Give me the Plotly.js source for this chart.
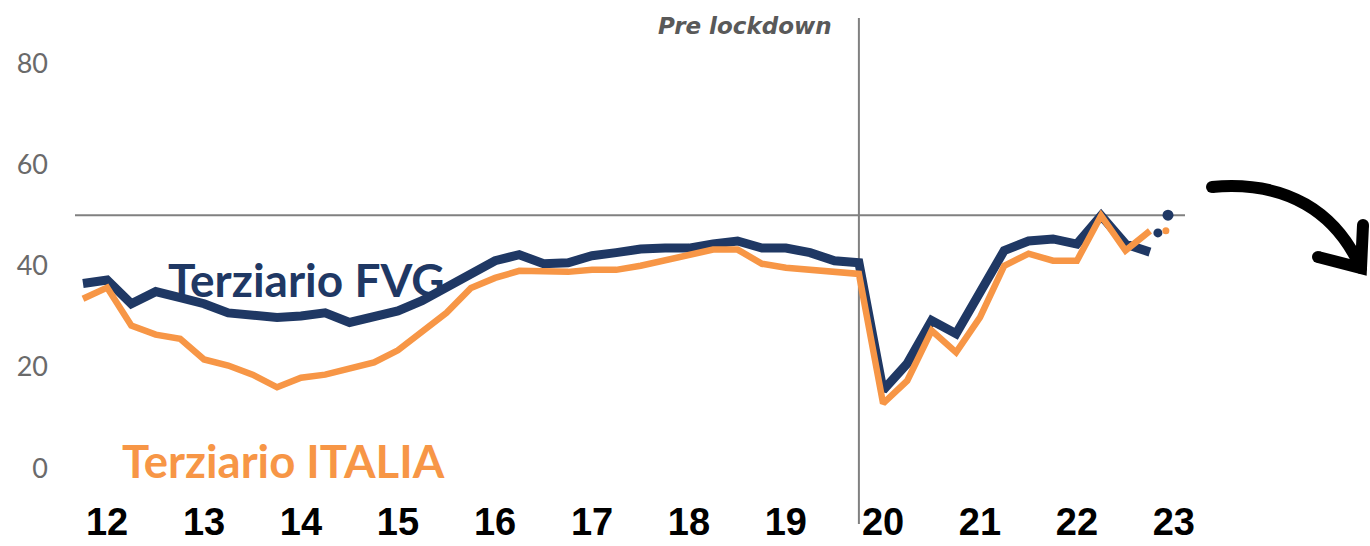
<!DOCTYPE html>
<html>
<head>
<meta charset="utf-8">
<script src="https://cdn.plot.ly/plotly-3.0.1.min.js"></script>
<style>
html,body{margin:0;padding:0;background:#fff;}
#chart{width:1370px;height:546px;}
</style>
</head>
<body>
<div id="chart"></div>
<script>
// Quarters (first day of each quarter), 2012 Q1 – 2023 Q1
const quarters = [
  "2012-01-01","2012-04-01","2012-07-01","2012-10-01",
  "2013-01-01","2013-04-01","2013-07-01","2013-10-01",
  "2014-01-01","2014-04-01","2014-07-01","2014-10-01",
  "2015-01-01","2015-04-01","2015-07-01","2015-10-01",
  "2016-01-01","2016-04-01","2016-07-01","2016-10-01",
  "2017-01-01","2017-04-01","2017-07-01","2017-10-01",
  "2018-01-01","2018-04-01","2018-07-01","2018-10-01",
  "2019-01-01","2019-04-01","2019-07-01","2019-10-01",
  "2020-01-01","2020-04-01","2020-07-01","2020-10-01",
  "2021-01-01","2021-04-01","2021-07-01","2021-10-01",
  "2022-01-01","2022-04-01","2022-07-01","2022-10-01",
  "2023-01-01"
];

const terziarioFVG = [
  36.5,37.2,32.5,34.9,33.7,32.5,30.7,30.3,29.8,30.1,
  30.7,28.8,29.8,31.1,33.1,35.7,38.0,41.0,42.2,40.4,
  40.6,42.0,42.6,43.3,43.5,43.5,44.3,44.9,43.5,43.5,
  42.6,41.0,40.6,15.4,20.7,29.2,26.6,35.1,43.0,44.9,
  45.3,44.3,49.9,44.3,42.7
];

const terziarioITALIA = [
  33.5,35.7,28.2,26.4,25.6,21.5,20.3,18.5,16.0,17.9,
  18.5,19.7,20.9,23.3,26.8,30.7,35.6,37.6,39.0,38.8,
  38.8,39.2,39.2,40.0,41.0,42.2,43.2,43.2,40.4,39.6,
  39.2,38.8,38.4,12.8,17.3,27.2,22.9,29.8,40.0,42.4,
  41.0,41.0,49.9,43.0,46.9
];

// Latest single readings shown as dots
const fvgDotDates = ["2023-01-31","2023-03-10"];
const fvgDotValues = [46.5, 50.0];
const fvgDotSizes = [9, 11];
const italiaDotDates = ["2023-03-02"];
const italiaDotValues = [46.9];

const yearTickDates = ["2012-04-01","2013-04-01","2014-04-01","2015-04-01","2016-04-01","2017-04-01",
                       "2018-04-01","2019-04-01","2020-04-01","2021-04-01","2022-04-01","2023-04-01"];
const yearTickLabels = ["12","13","14","15","16","17","18","19","20","21","22","23"];

const yTickValues = [0,20,40,60,80];
const threshold = 50;
const lockdownDate = "2020-01-01";

const NAVY = "#1F3864";
const ORANGE = "#F79646";

const traces = [
  {x: quarters, y: terziarioFVG, type: "scatter", mode: "lines",
   line: {color: NAVY, width: 9}, hoverinfo: "skip"},
  {x: quarters, y: terziarioITALIA, type: "scatter", mode: "lines",
   line: {color: ORANGE, width: 6.5}, hoverinfo: "skip"},
  {x: fvgDotDates, y: fvgDotValues, type: "scatter", mode: "markers",
   marker: {color: NAVY, size: fvgDotSizes, opacity: 1, line: {width: 0}}, hoverinfo: "skip"},
  {x: italiaDotDates, y: italiaDotValues, type: "scatter", mode: "markers",
   marker: {color: ORANGE, size: 7, opacity: 1, line: {width: 0}}, hoverinfo: "skip"}
];

// round caps for the hand-drawn arrow (paper coords)
function cap(px, py) {
  const rx = 6 / 1110, ry = 6 / 472;
  const x = (px - 75) / 1110, y = (490 - py) / 472;
  return {type: "circle", xref: "paper", yref: "paper", x0: x - rx, x1: x + rx, y0: y - ry, y1: y + ry,
          fillcolor: "#000000", line: {width: 0}};
}

const layout = {
  width: 1370, height: 546,
  margin: {l: 75, r: 185, t: 18, b: 56},
  paper_bgcolor: "#ffffff", plot_bgcolor: "#ffffff",
  showlegend: false,
  xaxis: {
    type: "date",
    range: ["2011-12-02","2023-05-13"],
    showgrid: false, zeroline: false, showline: false,
    tickmode: "array", tickvals: yearTickDates, ticktext: yearTickLabels,
    ticks: "", ticklabelstandoff: 6,
    tickfont: {family: "Liberation Sans, Arial, sans-serif", size: 38, color: "#000000", weight: "bold"},
    automargin: false, fixedrange: true
  },
  yaxis: {
    range: [-4.29, 88.95],
    showgrid: false, zeroline: false, showline: false,
    tickmode: "array", tickvals: yTickValues,
    ticks: "", ticklabelstandoff: 26,
    tickfont: {family: "Lato, sans-serif", size: 27, color: "#6a6a6a"},
    automargin: false, fixedrange: true
  },
  shapes: [
    {type: "line", xref: "paper", x0: 0, x1: 1, yref: "y", y0: threshold, y1: threshold,
     line: {color: "#808080", width: 2}, layer: "below"},
    {type: "line", xref: "x", x0: lockdownDate, x1: lockdownDate, yref: "paper", y0: -0.072, y1: 1.0,
     line: {color: "#808080", width: 2}, layer: "below"},
    {type: "path", xref: "paper", yref: "paper",
     path: "M 1.02432 0.64195 C 1.09459 0.65678 1.13514 0.58263 1.15586 0.48305",
     line: {color: "#000000", width: 12}},
    {type: "path", xref: "paper", yref: "paper",
     path: "M 1.16036 0.56144 L 1.15856 0.47034 L 1.11982 0.49364",
     line: {color: "#000000", width: 12}},
    cap(1212, 187), cap(1363, 225), cap(1361, 268), cap(1318, 257)
  ],
  annotations: [
    {xref: "x", x: lockdownDate, xanchor: "right", xshift: -25, yref: "paper", y: (490-26)/472, yanchor: "middle",
     text: "<b><i>Pre lockdown</i></b>", showarrow: false,
     font: {family: "DejaVu Sans, sans-serif", size: 23, color: "#595959"}},
    {xref: "paper", x: (306-75)/1110, xanchor: "center", yref: "paper", y: (490-279)/472, yanchor: "middle",
     text: "<b>Terziario FVG</b>", showarrow: false,
     font: {family: "Lato, sans-serif", size: 46, color: NAVY}},
    {xref: "paper", x: (283-75)/1110, xanchor: "center", yref: "paper", y: (490-460)/472, yanchor: "middle",
     text: "<b>Terziario ITALIA</b>", showarrow: false,
     font: {family: "Lato, sans-serif", size: 45.5, color: ORANGE}}
  ]
};

Plotly.newPlot("chart", traces, layout, {displayModeBar: false, staticPlot: true});
</script>
</body>
</html>
